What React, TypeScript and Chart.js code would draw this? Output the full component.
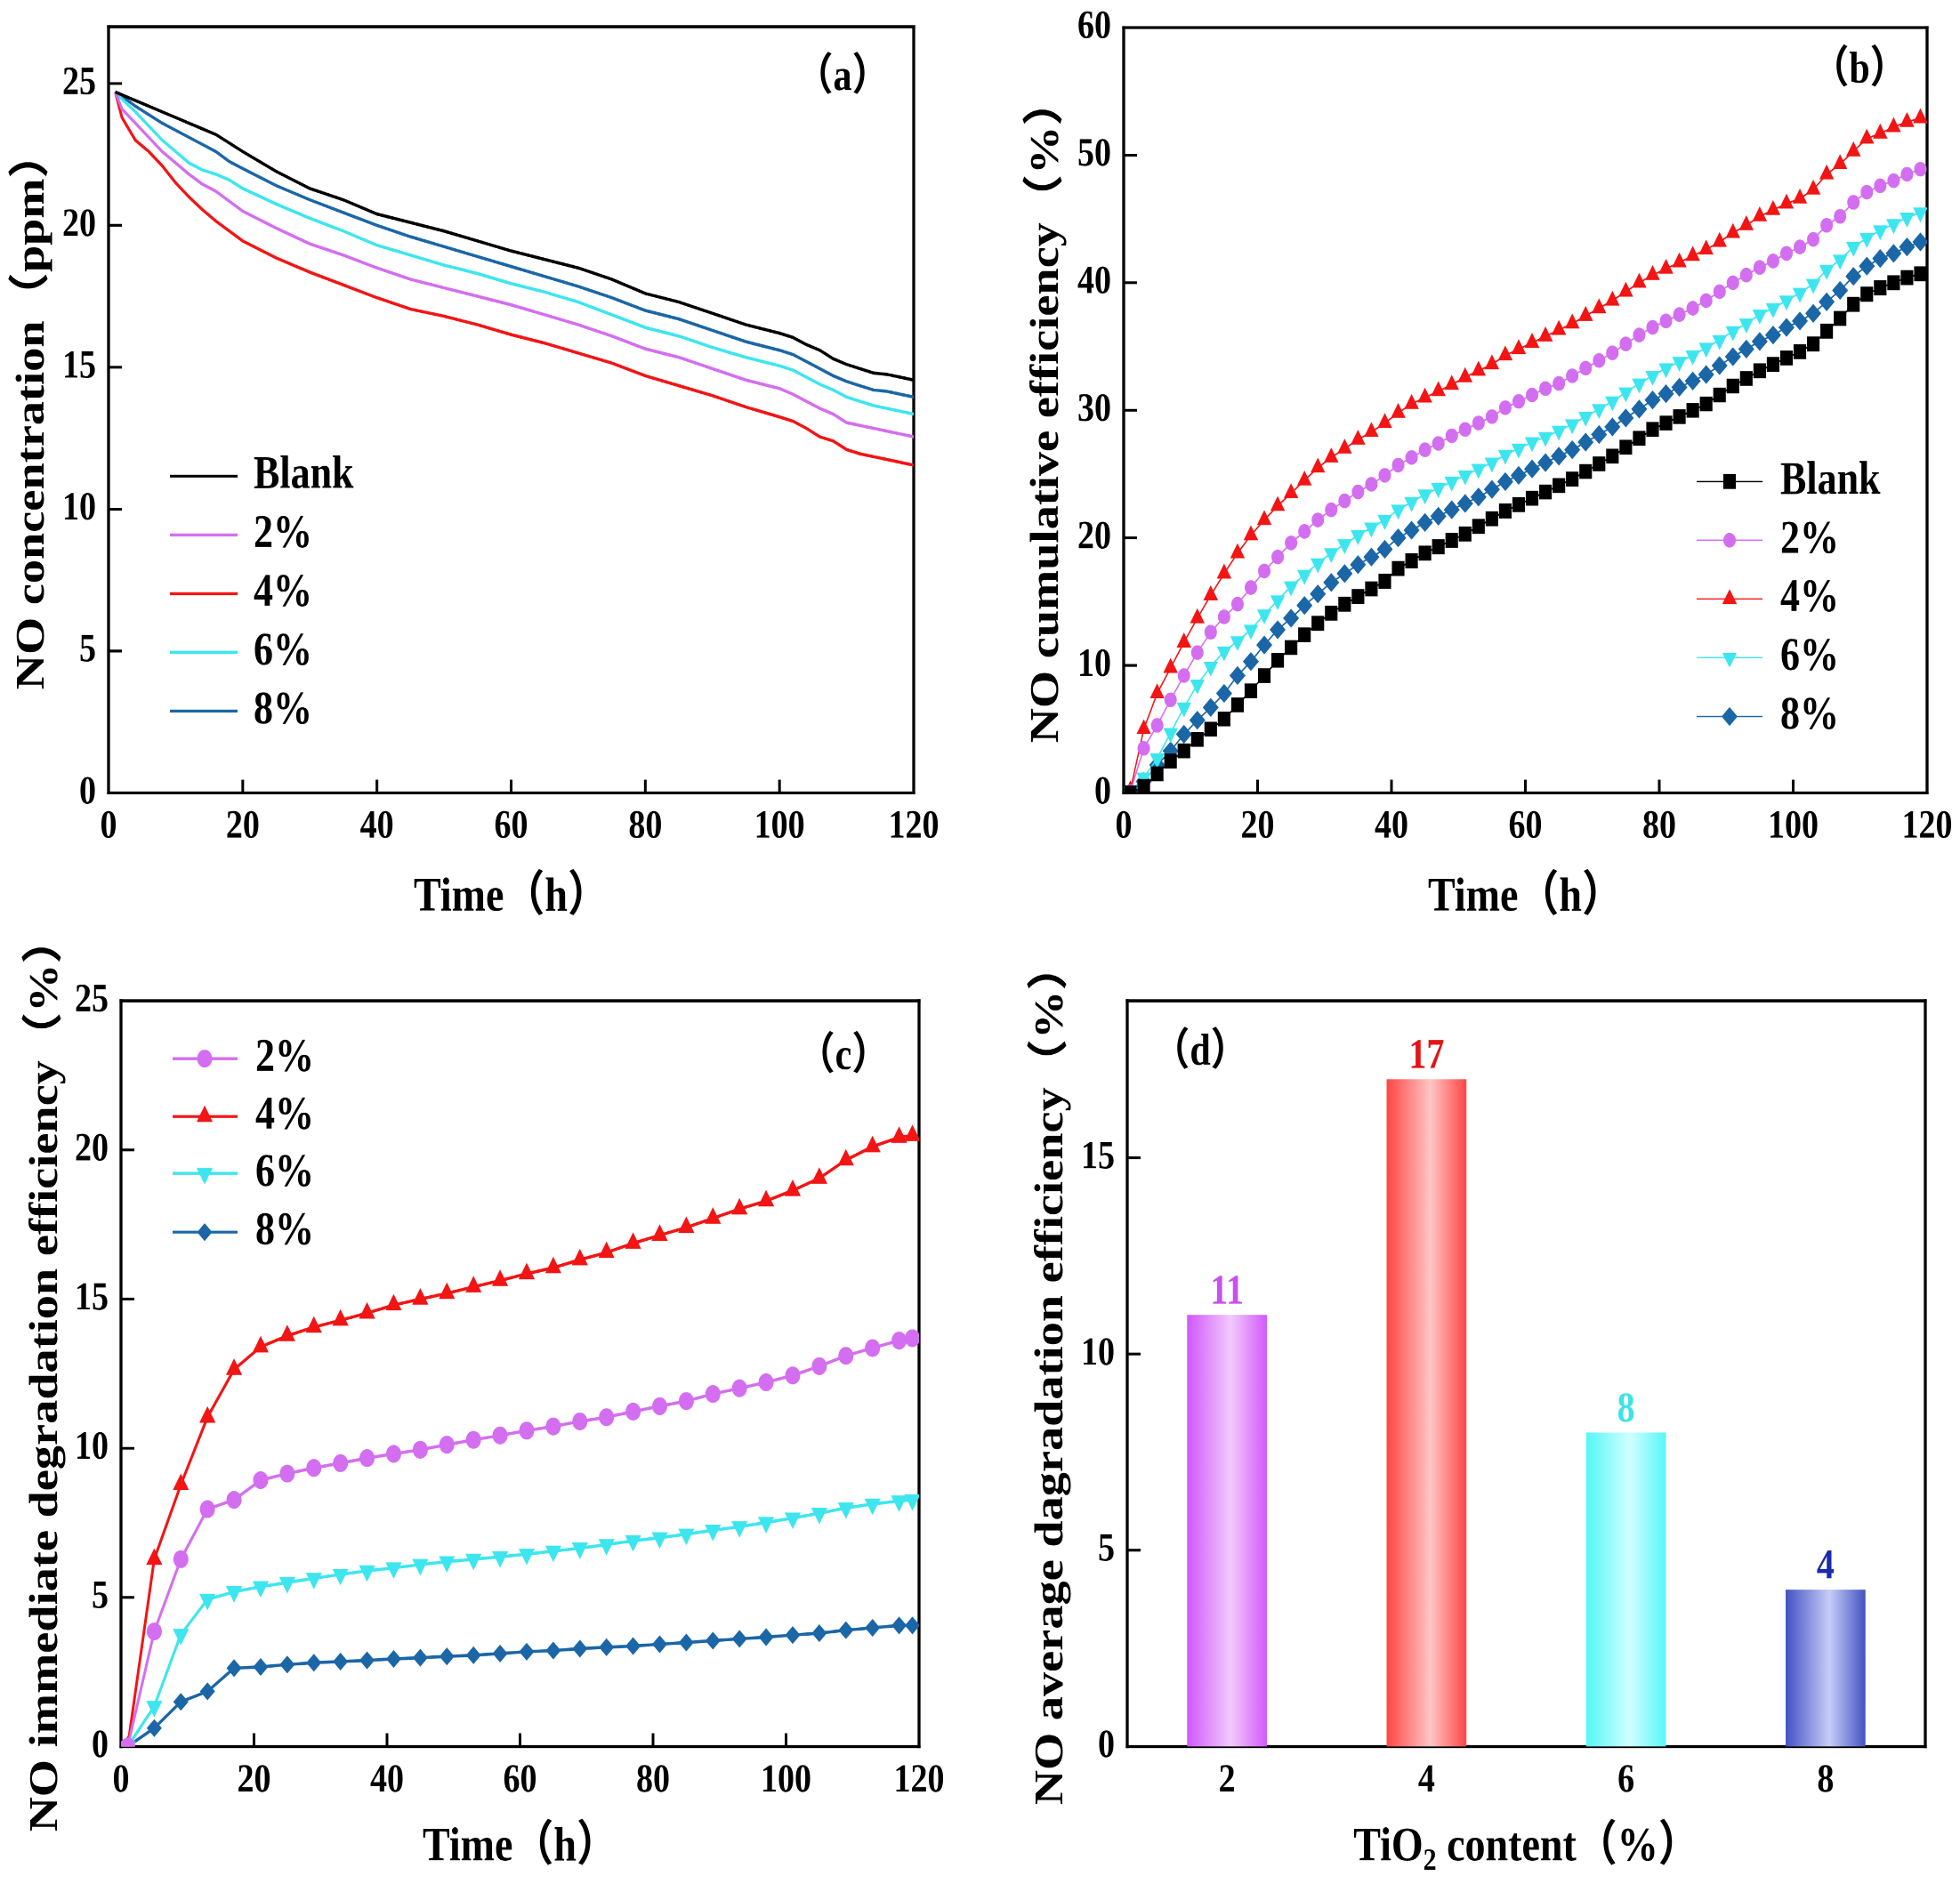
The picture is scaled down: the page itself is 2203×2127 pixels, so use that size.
import React, { useEffect, useRef } from 'react';
import { Chart, registerables } from 'chart.js';

Chart.register(...registerables);

// ---------------- data ----------------
// (a) NO concentration (ppm)
const TIME_A = [1, 2, 4, 6, 8, 10, 12, 14, 16, 18, 20, 25, 30, 35, 40, 45, 50, 55, 60, 65, 70, 75, 80, 85, 90, 95, 100, 102, 104, 106, 108, 110, 112, 114, 116, 118, 120];
const BLANK_A = [24.7, 24.6, 24.4, 24.2, 24.0, 23.8, 23.6, 23.4, 23.2, 22.9, 22.6, 21.9, 21.3, 20.9, 20.4, 20.1, 19.8, 19.45, 19.1, 18.8, 18.5, 18.1, 17.6, 17.3, 16.9, 16.5, 16.2, 16.05, 15.8, 15.6, 15.3, 15.1, 14.95, 14.8, 14.75, 14.65, 14.55];
const P2_A = [24.7, 24.1, 23.6, 23.1, 22.6, 22.2, 21.8, 21.45, 21.2, 20.85, 20.5, 19.9, 19.35, 18.95, 18.5, 18.1, 17.8, 17.5, 17.2, 16.85, 16.5, 16.1, 15.65, 15.35, 14.95, 14.55, 14.25, 14.05, 13.8, 13.55, 13.35, 13.05, 12.95, 12.85, 12.75, 12.65, 12.55];
const P4_A = [24.7, 23.8, 23.0, 22.6, 22.1, 21.5, 21.0, 20.55, 20.15, 19.8, 19.45, 18.85, 18.35, 17.9, 17.45, 17.05, 16.8, 16.5, 16.15, 15.85, 15.5, 15.15, 14.7, 14.35, 14.0, 13.6, 13.25, 13.1, 12.85, 12.55, 12.4, 12.1, 11.95, 11.85, 11.75, 11.65, 11.55];
const P6_A = [24.7, 24.45, 24.0, 23.5, 23.0, 22.6, 22.2, 21.95, 21.8, 21.6, 21.3, 20.75, 20.25, 19.8, 19.3, 18.95, 18.6, 18.3, 17.95, 17.65, 17.3, 16.85, 16.4, 16.1, 15.7, 15.35, 15.05, 14.9, 14.65, 14.4, 14.2, 13.95, 13.8, 13.65, 13.55, 13.45, 13.35];
const P8_A = [24.7, 24.55, 24.2, 23.9, 23.6, 23.35, 23.1, 22.85, 22.6, 22.25, 22.0, 21.4, 20.9, 20.45, 20.0, 19.6, 19.25, 18.9, 18.55, 18.2, 17.85, 17.45, 17.0, 16.7, 16.3, 15.9, 15.6, 15.45, 15.2, 14.95, 14.7, 14.5, 14.35, 14.2, 14.15, 14.05, 13.95];

// (b) NO cumulative efficiency (%)
const TIME_B = [1, 3, 5, 7, 9, 11, 13, 15, 17, 19, 21, 23, 25, 27, 29, 31, 33, 35, 37, 39, 41, 43, 45, 47, 49, 51, 53, 55, 57, 59, 61, 63, 65, 67, 69, 71, 73, 75, 77, 79, 81, 83, 85, 87, 89, 91, 93, 95, 97, 99, 101, 103, 105, 107, 109, 111, 113, 115, 117, 119];
const BLANK_B = [0.0, 0.5, 1.5, 2.5, 3.3, 4.2, 5.0, 5.8, 6.9, 8.0, 9.2, 10.4, 11.4, 12.4, 13.3, 14.1, 14.8, 15.4, 16.0, 16.6, 17.6, 18.2, 18.8, 19.3, 19.8, 20.3, 20.9, 21.5, 22.1, 22.6, 23.1, 23.6, 24.1, 24.6, 25.2, 25.8, 26.4, 27.1, 27.8, 28.5, 29.0, 29.5, 30.0, 30.5, 31.2, 31.9, 32.5, 33.1, 33.6, 34.1, 34.6, 35.2, 36.2, 37.2, 38.3, 39.1, 39.6, 40.0, 40.4, 40.7];
const P2_B = [0.1, 3.5, 5.3, 7.3, 9.2, 11.0, 12.6, 13.8, 14.8, 16.1, 17.4, 18.5, 19.6, 20.5, 21.4, 22.2, 22.9, 23.6, 24.2, 24.9, 25.7, 26.3, 26.9, 27.4, 28.0, 28.5, 29.0, 29.5, 30.2, 30.7, 31.2, 31.7, 32.1, 32.7, 33.3, 33.9, 34.5, 35.2, 35.9, 36.5, 37.0, 37.5, 38.0, 38.6, 39.3, 40.0, 40.6, 41.2, 41.7, 42.3, 42.8, 43.4, 44.5, 45.2, 46.3, 47.1, 47.6, 48.0, 48.5, 48.9];
const P4_B = [0.2, 5.0, 7.8, 9.8, 11.8, 13.7, 15.5, 17.2, 18.8, 20.2, 21.4, 22.5, 23.5, 24.5, 25.5, 26.3, 27.0, 27.7, 28.3, 29.0, 29.8, 30.5, 31.0, 31.5, 32.0, 32.6, 33.1, 33.6, 34.3, 34.8, 35.3, 35.8, 36.3, 36.8, 37.4, 38.0, 38.6, 39.3, 40.0, 40.6, 41.1, 41.6, 42.1, 42.6, 43.2, 43.9, 44.5, 45.2, 45.7, 46.2, 46.6, 47.3, 48.5, 49.3, 50.3, 51.3, 51.7, 52.2, 52.6, 52.9];
const P6_B = [0.1, 1.2, 2.7, 4.7, 6.7, 8.5, 9.9, 11.1, 11.9, 12.8, 14.0, 15.1, 16.2, 17.1, 18.0, 18.8, 19.5, 20.2, 20.8, 21.4, 22.2, 22.8, 23.4, 23.9, 24.4, 24.9, 25.4, 25.9, 26.5, 27.0, 27.5, 27.9, 28.4, 28.9, 29.5, 30.1, 30.7, 31.4, 32.1, 32.7, 33.3, 33.8, 34.3, 34.9, 35.5, 36.2, 36.8, 37.5, 38.0, 38.6, 39.2, 39.9, 41.0, 41.8, 42.8, 43.5, 44.1, 44.6, 45.1, 45.5];
const P8_B = [0.1, 0.9, 2.2, 3.3, 4.6, 5.7, 6.7, 7.8, 9.2, 10.3, 11.6, 12.8, 13.7, 14.7, 15.6, 16.5, 17.2, 17.9, 18.5, 19.1, 20.0, 20.6, 21.2, 21.7, 22.2, 22.7, 23.2, 23.8, 24.4, 24.9, 25.4, 25.9, 26.4, 26.9, 27.5, 28.1, 28.7, 29.4, 30.1, 30.8, 31.3, 31.8, 32.3, 32.8, 33.5, 34.2, 34.8, 35.4, 35.9, 36.5, 37.0, 37.6, 38.5, 39.4, 40.5, 41.3, 41.9, 42.3, 42.8, 43.2];

// (c) NO immediate degradation efficiency (%)
const TIME_C = [1, 5, 9, 13, 17, 21, 25, 29, 33, 37, 41, 45, 49, 53, 57, 61, 65, 69, 73, 77, 81, 85, 89, 93, 97, 101, 105, 109, 113, 117, 119];
const P2_C = [0, 3.86, 6.28, 7.96, 8.27, 8.93, 9.15, 9.34, 9.5, 9.67, 9.81, 9.95, 10.12, 10.28, 10.43, 10.59, 10.73, 10.9, 11.04, 11.23, 11.41, 11.58, 11.82, 12.01, 12.21, 12.44, 12.75, 13.1, 13.36, 13.61, 13.69];
const P4_C = [0, 6.28, 8.78, 11.04, 12.64, 13.4, 13.77, 14.06, 14.29, 14.53, 14.8, 15.0, 15.19, 15.41, 15.62, 15.85, 16.05, 16.32, 16.56, 16.87, 17.14, 17.4, 17.71, 18.02, 18.29, 18.64, 19.05, 19.66, 20.11, 20.42, 20.48];
const P6_C = [0, 1.35, 3.76, 4.93, 5.19, 5.36, 5.5, 5.64, 5.77, 5.89, 5.99, 6.1, 6.2, 6.28, 6.36, 6.45, 6.55, 6.65, 6.77, 6.9, 7.0, 7.12, 7.25, 7.37, 7.51, 7.66, 7.82, 8.0, 8.13, 8.23, 8.27];
const P8_C = [0, 0.62, 1.5, 1.85, 2.63, 2.67, 2.75, 2.81, 2.85, 2.89, 2.94, 2.98, 3.02, 3.06, 3.12, 3.18, 3.22, 3.28, 3.33, 3.37, 3.43, 3.49, 3.55, 3.61, 3.67, 3.74, 3.8, 3.9, 3.98, 4.06, 4.06];

// (d) NO average degradation efficiency (%)
const BAR_CATS = ['2', '4', '6', '8'];
const BAR_VALUES = [11, 17, 8, 4];

const SERIES_LABELS = ['Blank', '2%', '4%', '6%', '8%'];

// ---------------- styles ----------------
const S = 1.18; // vertical stretch of the whole figure
const FONT = "'Liberation Serif', 'Times New Roman', 'Noto Sans CJK SC', serif";
const TICK_SIZE = 38;
const TITLE_SIZE = 46;
const LEGEND_SIZE = 44;
const TAG_SIZE = 42;
const TICK_LEN = 15;

const C_BLANK = '#000000';
const C2 = '#d46ef0';
const C4 = '#f31414';
const C6 = '#3de6ee';
const C8 = '#1b66a6';
const SERIES_COLORS = [C_BLANK, C2, C4, C6, C8];

const BAR_EDGE = ['#d258fb', '#ff4545', '#55f7f7', '#4352c2'];
const BAR_MID = ['#f2cafb', '#ffc6c6', '#d2ffff', '#c7cef7'];
const BAR_TEXT = ['#c94ff0', '#e41414', '#3fe3e3', '#1c2aa8'];

Chart.defaults.color = '#000';
Chart.defaults.font.family = FONT;

type Box = {
  left: number; top: number; width: number; height: number;
  plotL: number; plotR: number; plotT: number; plotB: number;
  yTitleX: number; xTitleY: number;
};

const BOX_A: Box = { left: 0, top: 0, width: 1101, height: 1063, plotL: 122, plotR: 1027, plotT: 30, plotB: 891, yTitleX: 37, xTitleY: 1009 };
const BOX_B: Box = { left: 1101, top: 0, width: 1102, height: 1063, plotL: 1263, plotR: 2166, plotT: 31, plotB: 891, yTitleX: 1177, xTitleY: 1009 };
const BOX_C: Box = { left: 0, top: 1063, width: 1101, height: 1064, plotL: 136, plotR: 1033, plotT: 1125, plotB: 1963, yTitleX: 52, xTitleY: 2077 };
const BOX_D: Box = { left: 1101, top: 1063, width: 1102, height: 1064, plotL: 1267, plotR: 2164, plotT: 1125, plotB: 1963, yTitleX: 1182, xTitleY: 2077 };

function geom(b: Box) {
  const h = b.height / S;
  const top = (b.plotT - b.top) / S;
  const bottom = (b.plotB - b.top) / S;
  const tOff = (TITLE_SIZE * 1.2) / 2 + 4;
  const xScaleBottom = (b.xTitleY - b.top) / S + tOff;
  const padLeft = b.yTitleX - b.left - tOff;
  return {
    padding: { left: padLeft, top, right: b.width - (b.plotR - b.left), bottom: h - xScaleBottom },
    xH: xScaleBottom - bottom,
    yW: b.plotL - b.left - padLeft,
  };
}

const tickFont = { family: FONT, size: TICK_SIZE, weight: 'bold' as const };
const titleFont = { family: FONT, size: TITLE_SIZE, weight: 'bold' as const };

function zeroPad(s: any) {
  s.paddingLeft = 0; s.paddingRight = 0; s.paddingTop = 0; s.paddingBottom = 0;
}

function framePlugin(xTicks: boolean) {
  return {
    id: 'frame',
    beforeDatasetsDraw(chart: any) {
      const { ctx, chartArea: a } = chart;
      const xs = chart.scales.x;
      const ys = chart.scales.y;
      ctx.save();
      ctx.strokeStyle = '#000';
      ctx.lineCap = 'butt';
      if (xTicks) {
        ctx.lineWidth = 3;
        ctx.beginPath();
        for (const t of xs.ticks) {
          const px = xs.getPixelForValue(t.value);
          if (px < a.left + 3 || px > a.right - 3) continue;
          ctx.moveTo(px, a.bottom);
          ctx.lineTo(px, a.bottom - TICK_LEN / S);
        }
        ctx.stroke();
      }
      ctx.lineWidth = 3 / S;
      ctx.beginPath();
      for (const t of ys.ticks) {
        const py = ys.getPixelForValue(t.value);
        if (py > a.bottom - 3 || py < a.top + 3) continue;
        ctx.moveTo(a.left, py);
        ctx.lineTo(a.left + TICK_LEN, py);
      }
      ctx.stroke();
      const lw = 3.3;
      ctx.lineWidth = lw;
      ctx.beginPath();
      ctx.moveTo(a.left, a.top - lw / S / 2);
      ctx.lineTo(a.left, a.bottom + lw / S / 2);
      ctx.moveTo(a.right, a.top - lw / S / 2);
      ctx.lineTo(a.right, a.bottom + lw / S / 2);
      ctx.stroke();
      ctx.lineWidth = lw / S;
      ctx.beginPath();
      ctx.moveTo(a.left - lw / 2, a.top);
      ctx.lineTo(a.right + lw / 2, a.top);
      ctx.moveTo(a.left - lw / 2, a.bottom);
      ctx.lineTo(a.right + lw / 2, a.bottom);
      ctx.stroke();
      ctx.restore();
    },
  };
}

type Mk = { style: string; radius: number };

function drawMarker(ctx: CanvasRenderingContext2D, style: string, x: number, y: number, r: number) {
  ctx.beginPath();
  if (style === 'rect') {
    const s = r * Math.SQRT1_2;
    ctx.rect(x - s, y - s, 2 * s, 2 * s);
  } else if (style === 'circle') {
    ctx.arc(x, y, r, 0, Math.PI * 2);
  } else if (style === 'triangle') {
    ctx.moveTo(x, y - r);
    ctx.lineTo(x + r * 0.866, y + r * 0.5);
    ctx.lineTo(x - r * 0.866, y + r * 0.5);
    ctx.closePath();
  } else if (style === 'triangleDown') {
    ctx.moveTo(x, y + r);
    ctx.lineTo(x - r * 0.866, y - r * 0.5);
    ctx.lineTo(x + r * 0.866, y - r * 0.5);
    ctx.closePath();
  } else if (style === 'diamond') {
    ctx.moveTo(x - r, y);
    ctx.lineTo(x, y - r);
    ctx.lineTo(x + r, y);
    ctx.lineTo(x, y + r);
    ctx.closePath();
  }
  ctx.fill();
}

function legendPlugin(b: Box, opts: { x1: number; x2: number; mx: number; textX: number; ys: number[]; lw: number; markers?: Mk[]; first: number }) {
  return {
    id: 'customLegend',
    afterDatasetsDraw(chart: any) {
      const ctx = chart.ctx as CanvasRenderingContext2D;
      ctx.save();
      opts.ys.forEach((yy, i) => {
        const idx = opts.first + i;
        const color = SERIES_COLORS[idx];
        const y = (yy - b.top) / S;
        ctx.strokeStyle = color;
        ctx.lineWidth = opts.lw / S;
        ctx.beginPath();
        ctx.moveTo(opts.x1 - b.left, y);
        ctx.lineTo(opts.x2 - b.left, y);
        ctx.stroke();
        if (opts.markers) {
          const m = opts.markers[idx];
          ctx.fillStyle = color;
          drawMarker(ctx, m.style, opts.mx - b.left, y, m.radius);
        }
        ctx.fillStyle = '#000';
        ctx.font = `bold ${LEGEND_SIZE}px ${FONT}`;
        ctx.textAlign = 'left';
        ctx.textBaseline = 'middle';
        ctx.fillText(SERIES_LABELS[idx], opts.textX - b.left, y);
      });
      ctx.restore();
    },
  };
}

function textPlugin(b: Box, texts: { text: string; x: number; y: number; color: string; size: number }[]) {
  return {
    id: 'texts',
    afterDraw(chart: any) {
      const ctx = chart.ctx as CanvasRenderingContext2D;
      ctx.save();
      ctx.textAlign = 'center';
      ctx.textBaseline = 'middle';
      texts.forEach((t) => {
        ctx.font = `bold ${t.size}px ${FONT}`;
        ctx.fillStyle = t.color;
        ctx.fillText(t.text, t.x - b.left, (t.y - b.top) / S);
      });
      ctx.restore();
    },
  };
}

function lineConfig(b: Box, datasets: any[], yMax: number, yStep: number, yTitle: string, plugins: any[]) {
  const g = geom(b);
  return {
    type: 'line',
    data: { datasets },
    options: {
      animation: false,
      responsive: true,
      maintainAspectRatio: false,
      devicePixelRatio: 2,
      layout: { padding: g.padding },
      plugins: { legend: { display: false }, tooltip: { enabled: false } },
      scales: {
        x: {
          type: 'linear', min: 0, max: 120,
          ticks: { stepSize: 20, font: tickFont, color: '#000', padding: 10, maxRotation: 0, autoSkip: false },
          grid: { display: false, drawTicks: false },
          border: { display: false },
          title: { display: true, text: 'Time（h）', font: titleFont, color: '#000', padding: { top: 4, bottom: 4 } },
          afterFit: (s: any) => { s.height = g.xH; zeroPad(s); },
        },
        y: {
          type: 'linear', min: 0, max: yMax,
          ticks: { stepSize: yStep, includeBounds: false, font: tickFont, color: '#000', padding: 14, autoSkip: false },
          grid: { display: false, drawTicks: false },
          border: { display: false },
          title: { display: true, text: yTitle, font: titleFont, color: '#000', padding: { top: 4, bottom: 4 } },
          afterFit: (s: any) => { s.width = g.yW; zeroPad(s); },
        },
      },
    },
    plugins,
  };
}

function pts(t: number[], v: number[]) {
  return t.map((x, i) => ({ x, y: v[i] }));
}

// ---------- panel builders ----------
function makeA(b: Box) {
  const vals = [BLANK_A, P2_A, P4_A, P6_A, P8_A];
  const datasets = vals.map((v, i) => ({
    label: SERIES_LABELS[i],
    data: pts(TIME_A, v),
    borderColor: SERIES_COLORS[i],
    borderWidth: 3,
    pointRadius: 0,
    fill: false,
    tension: 0,
  }));
  return lineConfig(b, datasets, 27, 5, 'NO concentration（ppm）', [
    framePlugin(true),
    legendPlugin(b, { x1: 191, x2: 267, mx: 229, textX: 285, ys: [535, 601, 667, 733, 799], lw: 3.3, first: 0 }),
    textPlugin(b, [{ text: '（a）', x: 947, y: 88, color: '#000', size: TAG_SIZE }]),
  ]);
}

const MARK_B: Mk[] = [
  { style: 'rect', radius: 10 },
  { style: 'circle', radius: 7 },
  { style: 'triangle', radius: 9.5 },
  { style: 'triangleDown', radius: 9.5 },
  { style: 'diamond', radius: 9 },
];
const MARK_C: Mk[] = [
  { style: 'rect', radius: 9 },
  { style: 'circle', radius: 8.5 },
  { style: 'triangle', radius: 10.5 },
  { style: 'triangleDown', radius: 10.5 },
  { style: 'diamond', radius: 8.5 },
];

function cjsStyle(m: Mk) {
  if (m.style === 'diamond') return { pointStyle: 'rectRot', pointRotation: 0 };
  if (m.style === 'triangleDown') return { pointStyle: 'triangle', pointRotation: 180 };
  return { pointStyle: m.style, pointRotation: 0 };
}

function makeB(b: Box) {
  const vals = [BLANK_B, P2_B, P4_B, P6_B, P8_B];
  const datasets = vals.map((v, i) => ({
    label: SERIES_LABELS[i],
    data: pts(TIME_B, v),
    borderColor: SERIES_COLORS[i],
    backgroundColor: SERIES_COLORS[i],
    borderWidth: 1.5,
    pointRadius: MARK_B[i].radius,
    pointBorderWidth: 0,
    pointBackgroundColor: SERIES_COLORS[i],
    ...cjsStyle(MARK_B[i]),
    fill: false,
    tension: 0,
  }));
  return lineConfig(b, datasets, 60, 10, 'NO cumulative efficiency（%）', [
    framePlugin(true),
    legendPlugin(b, { x1: 1907, x2: 1981, mx: 1944, textX: 2001, ys: [541, 607, 673, 739, 805], lw: 1.5, markers: MARK_B, first: 0 }),
    textPlugin(b, [{ text: '（b）', x: 2090, y: 80, color: '#000', size: TAG_SIZE }]),
  ]);
}

function makeC(b: Box) {
  const vals = [P2_C, P4_C, P6_C, P8_C];
  const datasets = vals.map((v, k) => {
    const i = k + 1;
    return {
      label: SERIES_LABELS[i],
      data: pts(TIME_C, v),
      borderColor: SERIES_COLORS[i],
      backgroundColor: SERIES_COLORS[i],
      borderWidth: 3,
      pointRadius: MARK_C[i].radius,
      pointBorderWidth: 0,
      pointBackgroundColor: SERIES_COLORS[i],
      ...cjsStyle(MARK_C[i]),
      fill: false,
      tension: 0,
    };
  });
  return lineConfig(b, datasets, 25, 5, 'NO immediate degradation efficiency（%）', [
    framePlugin(true),
    legendPlugin(b, { x1: 194, x2: 267, mx: 230, textX: 287, ys: [1190, 1255, 1319, 1385], lw: 3.3, markers: MARK_C, first: 1 }),
    textPlugin(b, [{ text: '（c）', x: 948, y: 1189, color: '#000', size: TAG_SIZE }]),
  ]);
}

function makeD(b: Box) {
  const g = geom(b);
  const barFill = (ctx: any) => {
    const i = ctx.dataIndex ?? 0;
    const chart = ctx.chart;
    const xs = chart.scales && chart.scales.x;
    if (!xs || !chart.chartArea || ctx.dataIndex === undefined) return BAR_EDGE[i];
    const cx = xs.getPixelForValue(i);
    const w = (xs.width / BAR_CATS.length) * 0.4;
    const gr = chart.ctx.createLinearGradient(cx - w / 2, 0, cx + w / 2, 0);
    gr.addColorStop(0, BAR_EDGE[i]);
    gr.addColorStop(0.55, BAR_MID[i]);
    gr.addColorStop(1, BAR_EDGE[i]);
    return gr;
  };
  const valueLabels = {
    id: 'valueLabels',
    afterDatasetsDraw(chart: any) {
      const c = chart.ctx as CanvasRenderingContext2D;
      const meta = chart.getDatasetMeta(0);
      c.save();
      c.textAlign = 'center';
      c.textBaseline = 'middle';
      c.font = `bold 40px ${FONT}`;
      meta.data.forEach((bar: any, i: number) => {
        c.fillStyle = BAR_TEXT[i];
        c.fillText(String(BAR_VALUES[i]), bar.x, bar.y - 21);
      });
      c.restore();
    },
  };
  const xTitle = {
    id: 'xTitleD',
    afterDraw(chart: any) {
      const c = chart.ctx as CanvasRenderingContext2D;
      const a = chart.chartArea;
      const cx = (a.left + a.right) / 2;
      const y = (b.xTitleY - b.top) / S;
      const big = `bold ${TITLE_SIZE}px ${FONT}`;
      const small = `bold ${Math.round(TITLE_SIZE * 0.66)}px ${FONT}`;
      const p1 = 'TiO', p2 = '2', p3 = ' content（%）';
      c.save();
      c.fillStyle = '#000';
      c.textBaseline = 'middle';
      c.textAlign = 'left';
      c.font = big; const w1 = c.measureText(p1).width; const w3 = c.measureText(p3).width;
      c.font = small; const w2 = c.measureText(p2).width;
      let x = cx - (w1 + w2 + w3) / 2;
      c.font = big; c.fillText(p1, x, y); x += w1;
      c.font = small; c.fillText(p2, x, y + TITLE_SIZE * 0.28); x += w2;
      c.font = big; c.fillText(p3, x, y);
      c.restore();
    },
  };
  return {
    type: 'bar',
    data: {
      labels: BAR_CATS,
      datasets: [{
        label: 'average',
        data: BAR_VALUES,
        backgroundColor: barFill,
        borderWidth: 0,
        barPercentage: 0.4,
        categoryPercentage: 1,
      }],
    },
    options: {
      animation: false,
      responsive: true,
      maintainAspectRatio: false,
      devicePixelRatio: 2,
      layout: { padding: g.padding },
      plugins: { legend: { display: false }, tooltip: { enabled: false } },
      scales: {
        x: {
          type: 'category', offset: true,
          ticks: { font: tickFont, color: '#000', padding: 10, maxRotation: 0, autoSkip: false },
          grid: { display: false, drawTicks: false, offset: true },
          border: { display: false },
          title: { display: false },
          afterFit: (s: any) => { s.height = g.xH; zeroPad(s); },
        },
        y: {
          type: 'linear', min: 0, max: 19,
          ticks: { stepSize: 5, includeBounds: false, font: tickFont, color: '#000', padding: 14, autoSkip: false },
          grid: { display: false, drawTicks: false },
          border: { display: false },
          title: { display: true, text: 'NO average dagradation efficiency（%）', font: titleFont, color: '#000', padding: { top: 4, bottom: 4 } },
          afterFit: (s: any) => { s.width = g.yW; zeroPad(s); },
        },
      },
    },
    plugins: [
      framePlugin(false),
      valueLabels,
      xTitle,
      textPlugin(b, [{ text: '（d）', x: 1349, y: 1184, color: '#000', size: TAG_SIZE }]),
    ],
  };
}

function ChartPanel({ box, make }: { box: Box; make: (b: Box) => any }) {
  const ref = useRef<HTMLCanvasElement | null>(null);
  useEffect(() => {
    if (!ref.current) return;
    const chart = new Chart(ref.current, make(box));
    return () => chart.destroy();
  }, [box, make]);
  return (
    <div
      style={{
        position: 'absolute',
        left: box.left,
        top: box.top,
        width: box.width,
        height: box.height / S,
        transform: `scaleY(${S})`,
        transformOrigin: '0 0',
      }}
    >
      <canvas ref={ref} />
    </div>
  );
}

export default function App() {
  return (
    <div style={{ position: 'absolute', left: 0, top: 0, width: 2203, height: 2127, overflow: 'hidden', background: '#fff' }}>
      <ChartPanel box={BOX_A} make={makeA} />
      <ChartPanel box={BOX_B} make={makeB} />
      <ChartPanel box={BOX_C} make={makeC} />
      <ChartPanel box={BOX_D} make={makeD} />
    </div>
  );
}
